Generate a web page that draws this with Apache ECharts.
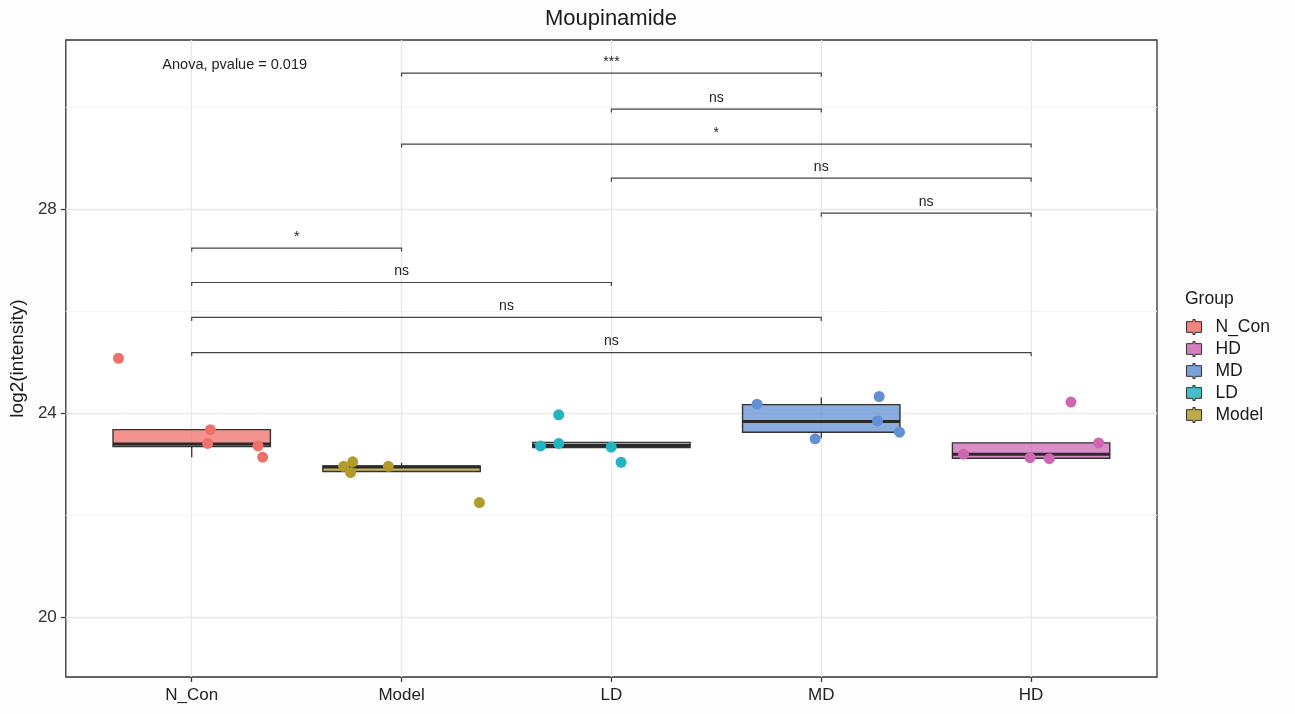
<!DOCTYPE html>
<html>
<head>
<meta charset="utf-8">
<title>Moupinamide</title>
<script src="https://cdn.jsdelivr.net/npm/echarts@6/dist/echarts.min.js"></script>
<style>
  html, body { margin: 0; padding: 0; background: #fdfdfd; }
  #chart { width: 1295px; height: 714px; }
</style>
</head>
<body>
<div id="chart"></div>
<script>
// Groups on the x axis, in plotting order
const groups = ['N_Con', 'Model', 'LD', 'MD', 'HD'];
// Legend order
const legendOrder = ['N_Con', 'HD', 'MD', 'LD', 'Model'];

// Individual sample values, log2(intensity)
const nConValues  = [25.07, 23.67, 23.40, 23.35, 23.13];
const modelValues = [22.95, 23.04, 22.83, 22.95, 22.24];
const ldValues    = [23.96, 23.35, 23.40, 23.33, 23.03];
const mdValues    = [24.17, 24.32, 23.84, 23.62, 23.49];
const hdValues    = [24.21, 23.41, 23.19, 23.12, 23.10];

// Horizontal jitter of each sample (fraction of a category step)
const nConJitter  = [-0.349, 0.089, 0.076, 0.316, 0.338];
const modelJitter = [-0.276, -0.233, -0.243, -0.063, 0.371];
const ldJitter    = [-0.251, -0.338, -0.251, -0.001, 0.046];
const mdJitter    = [-0.306, 0.276, 0.268, 0.373, -0.029];
const hdJitter    = [0.190, 0.322, -0.322, -0.005, 0.087];

// Box statistics per group: [lower whisker, Q1, median, Q3, upper whisker]
const boxStats = [
  [23.13, 23.34, 23.39, 23.67, 23.67],
  [22.85, 22.85, 22.94, 22.96, 23.02],
  [23.32, 23.32, 23.36, 23.42, 23.42],
  [23.50, 23.62, 23.83, 24.16, 24.30],
  [23.10, 23.11, 23.19, 23.41, 23.41]
];

// Pairwise comparisons
const compareFrom   = ['Model', 'LD', 'Model', 'LD', 'MD', 'N_Con', 'N_Con', 'N_Con', 'N_Con'];
const compareTo     = ['MD', 'MD', 'HD', 'HD', 'HD', 'Model', 'LD', 'MD', 'HD'];
const compareHeight = [30.66, 29.955, 29.27, 28.60, 27.915, 27.23, 26.555, 25.87, 25.18];
const compareLabel  = ['***', 'ns', '*', 'ns', 'ns', '*', 'ns', 'ns', 'ns'];

// Overall test annotation
const anovaText = 'Anova, pvalue = 0.019';
const anovaPos = [-0.14, 30.82];

// Axis ticks
const yTicks = [20, 24, 28];
const yMinorTicks = [22, 26, 30];
const xTicks = [0, 1, 2, 3, 4];

const groupColors = {
  N_Con: '#EF6F6A',
  Model: '#B39B2B',
  LD: '#22B4C0',
  MD: '#6390D3',
  HD: '#CD67B4'
};

const valuesByGroup = {
  N_Con: [nConValues, nConJitter],
  Model: [modelValues, modelJitter],
  LD: [ldValues, ldJitter],
  MD: [mdValues, mdJitter],
  HD: [hdValues, hdJitter]
};

const FONT = '"Liberation Sans", Arial, Helvetica, sans-serif';

// Boxplot-style legend key: box with whisker stubs above and below
const BOX_KEY = 'path://M6,0 L8,0 L8,2 L14,2 L14,12 L8,12 L8,14 L6,14 L6,12 L0,12 L0,2 L6,2 Z';

function withAlpha(hex, a) {
  const r = parseInt(hex.slice(1, 3), 16);
  const g = parseInt(hex.slice(3, 5), 16);
  const b = parseInt(hex.slice(5, 7), 16);
  return 'rgba(' + r + ',' + g + ',' + b + ',' + a + ')';
}

const chart = echarts.init(document.getElementById('chart'), null, { renderer: 'canvas' });

// Panel gridlines, drawn through markLine so they follow the axes
const gridLineData = []
  .concat(yMinorTicks.map(v => ({ yAxis: v, lineStyle: { color: '#f4f4f4', width: 1, type: 'solid' } })))
  .concat(yTicks.map(v => ({ yAxis: v, lineStyle: { color: '#e8e8e8', width: 1.3, type: 'solid' } })))
  .concat(xTicks.map(v => ({ xAxis: v, lineStyle: { color: '#e8e8e8', width: 1.3, type: 'solid' } })));

const gridSeries = {
  type: 'scatter',
  name: '__grid',
  data: [],
  z: 1,
  silent: true,
  markLine: {
    z: 1,
    silent: true,
    symbol: 'none',
    label: { show: false },
    emphasis: { disabled: true },
    animation: false,
    lineStyle: { type: 'solid' },
    data: gridLineData
  }
};

const BOX_HALF = 0.375;
const boxSeries = {
  type: 'custom',
  name: '__box',
  z: 2,
  silent: true,
  data: boxStats.map((s, i) => [i].concat(s)),
  renderItem: function (params, api) {
    const idx = api.value(0);
    const low = api.value(1), q1 = api.value(2), med = api.value(3), q3 = api.value(4), high = api.value(5);
    const color = groupColors[groups[idx]];
    const pTopLeft = api.coord([idx - BOX_HALF, q3]);
    const pBotRight = api.coord([idx + BOX_HALF, q1]);
    const pMedL = api.coord([idx - BOX_HALF, med]);
    const pMedR = api.coord([idx + BOX_HALF, med]);
    const pHigh = api.coord([idx, high]);
    const pLow = api.coord([idx, low]);
    const pQ3 = api.coord([idx, q3]);
    const pQ1 = api.coord([idx, q1]);
    return {
      type: 'group',
      children: [
        { type: 'line', shape: { x1: pHigh[0], y1: pHigh[1], x2: pQ3[0], y2: pQ3[1] },
          style: { stroke: '#333', lineWidth: 1.3 } },
        { type: 'line', shape: { x1: pLow[0], y1: pLow[1], x2: pQ1[0], y2: pQ1[1] },
          style: { stroke: '#333', lineWidth: 1.3 } },
        { type: 'rect',
          shape: { x: pTopLeft[0], y: pTopLeft[1], width: pBotRight[0] - pTopLeft[0], height: pBotRight[1] - pTopLeft[1] },
          style: { fill: withAlpha(color, 0.75), stroke: '#333', lineWidth: 1.4 } },
        { type: 'line', shape: { x1: pMedL[0], y1: pMedL[1], x2: pMedR[0], y2: pMedR[1] },
          style: { stroke: '#2a2a2a', lineWidth: 3 } }
      ]
    };
  }
};

const bracketSeries = {
  type: 'custom',
  name: '__compare',
  z: 4,
  silent: true,
  data: compareHeight.map((h, i) => [groups.indexOf(compareFrom[i]), groups.indexOf(compareTo[i]), h]),
  renderItem: function (params, api) {
    const p1 = api.coord([api.value(0), api.value(2)]);
    const p2 = api.coord([api.value(1), api.value(2)]);
    const tip = 3.5;
    return {
      type: 'group',
      children: [
        { type: 'polyline',
          shape: { points: [[p1[0], p1[1] + tip], [p1[0], p1[1]], [p2[0], p2[1]], [p2[0], p2[1] + tip]] },
          style: { stroke: '#444', lineWidth: 1.2, fill: null } },
        { type: 'text', x: (p1[0] + p2[0]) / 2, y: p1[1] - 4,
          style: { text: compareLabel[params.dataIndex], align: 'center', verticalAlign: 'bottom',
                   fontSize: 14, fontFamily: FONT, fill: '#222' } }
      ]
    };
  }
};

const anovaSeries = {
  type: 'custom',
  name: '__anova',
  z: 4,
  silent: true,
  data: [anovaPos],
  renderItem: function (params, api) {
    const p = api.coord([api.value(0), api.value(1)]);
    return {
      type: 'text', x: p[0], y: p[1],
      style: { text: anovaText, align: 'left', verticalAlign: 'middle', fontSize: 14.5, fontFamily: FONT, fill: '#222' }
    };
  }
};

const pointSeries = groups.map((g, gi) => {
  const [vals, jit] = valuesByGroup[g];
  return {
    type: 'scatter',
    name: g,
    z: 3,
    symbolSize: 11,
    itemStyle: { color: groupColors[g], opacity: 1 },
    emphasis: { disabled: true },
    data: vals.map((v, k) => [gi + jit[k], v])
  };
});

const option = {
  backgroundColor: '#fdfdfd',
  animation: false,
  textStyle: { fontFamily: FONT },
  title: [
    { text: 'Moupinamide', left: 611, top: 8, padding: 0, textAlign: 'center',
      textStyle: { fontSize: 22, fontWeight: 'normal', color: '#1a1a1a', fontFamily: FONT } },
    { text: 'Group', left: 1185, top: 290, padding: 0,
      textStyle: { fontSize: 17.5, fontWeight: 'normal', color: '#1a1a1a', fontFamily: FONT } }
  ],
  legend: {
    orient: 'vertical',
    left: 1186,
    top: 318,
    padding: 0,
    itemWidth: 15,
    itemHeight: 15,
    itemGap: 4,
    icon: BOX_KEY,
    selectedMode: false,
    textStyle: { fontSize: 17.5, color: '#1a1a1a', fontFamily: FONT, padding: [0, 0, 0, 9] },
    data: legendOrder.map(g => ({
      name: g,
      itemStyle: { color: withAlpha(groupColors[g], 0.85), borderColor: '#333', borderWidth: 1 }
    }))
  },
  grid: {
    left: 65, right: 138, top: 40, bottom: 37,
    show: true, backgroundColor: '#ffffff', borderColor: '#333', borderWidth: 1.3
  },
  xAxis: {
    type: 'value',
    min: -0.6,
    max: 4.6,
    axisLine: { show: false, onZero: false },
    splitLine: { show: false },
    axisTick: { show: true, length: 5, customValues: xTicks, lineStyle: { color: '#333', width: 1.2 } },
    axisLabel: {
      customValues: xTicks, margin: 10, fontSize: 17, color: '#222', fontFamily: FONT,
      formatter: v => groups[Math.round(v)]
    }
  },
  yAxis: {
    type: 'value',
    min: 18.82,
    max: 31.31,
    name: 'log2(intensity)',
    nameLocation: 'middle',
    nameGap: 31,
    nameTextStyle: { fontSize: 19, color: '#1a1a1a', fontFamily: FONT },
    axisLine: { show: false, onZero: false },
    splitLine: { show: false },
    axisTick: { show: true, length: 5, customValues: yTicks, lineStyle: { color: '#333', width: 1.2 } },
    axisLabel: { customValues: yTicks, margin: 9, fontSize: 17, color: '#333', fontFamily: FONT }
  },
  series: [gridSeries, boxSeries].concat(pointSeries).concat([bracketSeries, anovaSeries])
};

chart.setOption(option);
</script>
</body>
</html>
